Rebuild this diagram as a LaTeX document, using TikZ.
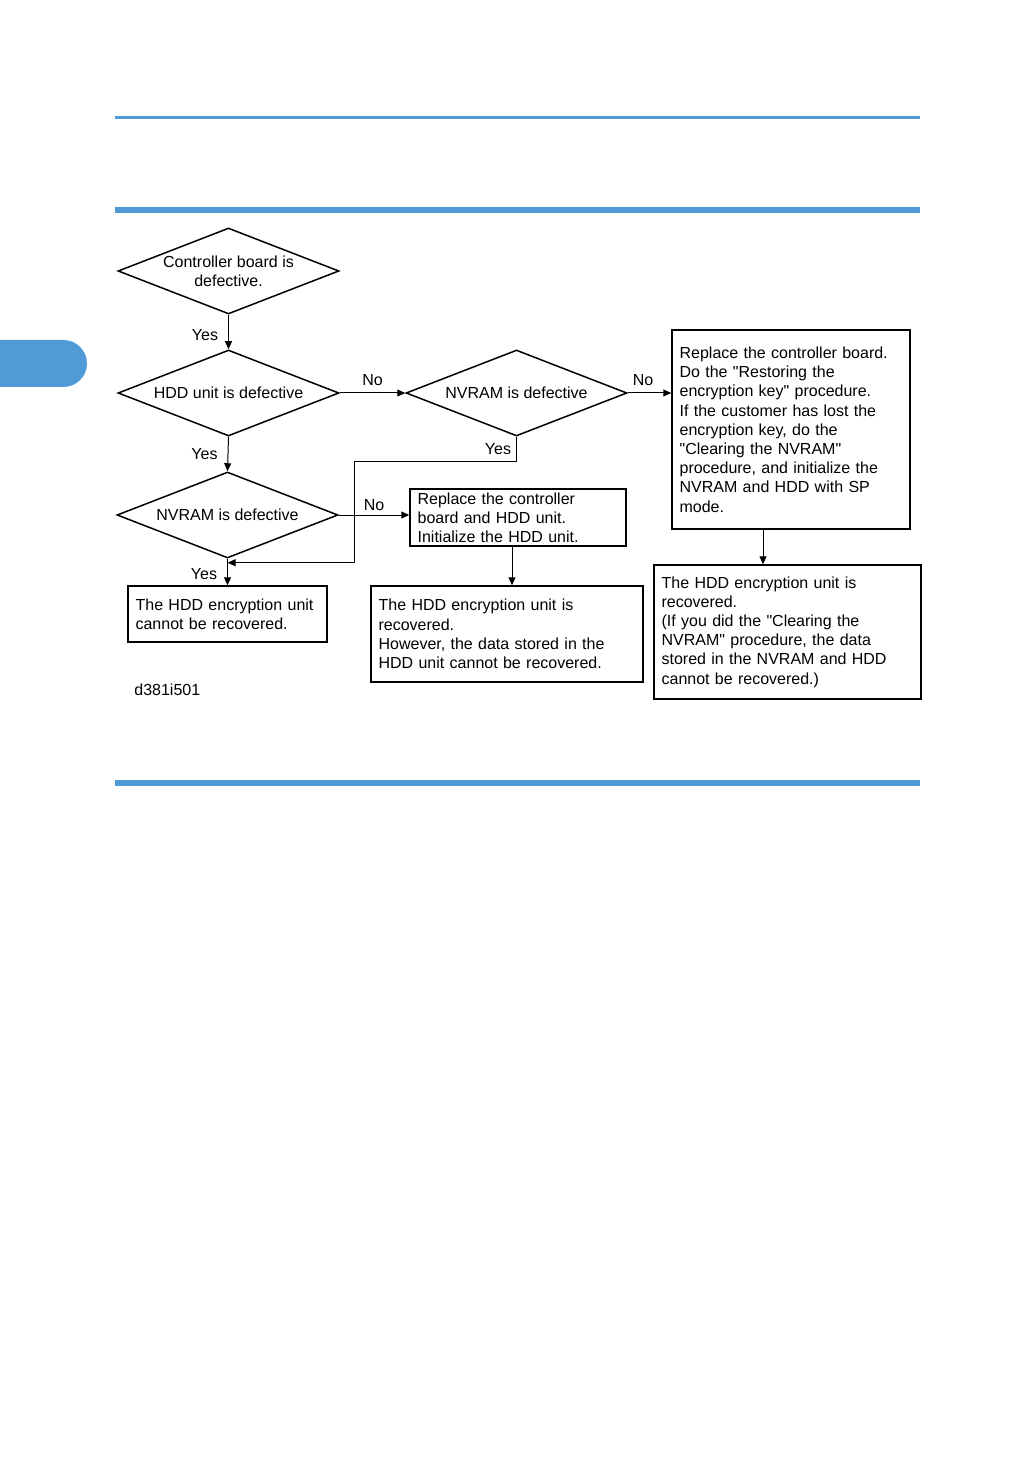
\documentclass[tikz,border=0pt]{standalone}
\usepackage{fontspec}
\setmainfont{Liberation Sans}[Ligatures=TeXOff]
\usetikzlibrary{arrows.meta, shapes.geometric, positioning}
\definecolor{pageblue}{RGB}{80,155,215}

\begin{document}
\begin{tikzpicture}[x=0.5pt, y=-0.5pt,
font=\fontsize{8}{9.6}\selectfont,
decision/.style={draw, shape=diamond, aspect=2.57, line width=0.75pt, inner sep=0pt,
  minimum width=110.5pt, minimum height=43pt, align=center},
action/.style={draw, rectangle, line width=0.75pt, inner xsep=3.8pt,
  inner ysep=0pt, align=left},
flow/.style={line width=0.5pt, -{Triangle[length=4pt,width=3.5pt]}},
answer/.style={inner sep=1.5pt}]
\useasboundingbox (0,0) rectangle (1036,1470);
\draw [pageblue, line width=1.5pt] (115,118) -- (920,118);
\draw [pageblue, line width=3pt] (115,210) -- (920,210);
\draw [pageblue, line width=3pt] (115,783) -- (920,783);
\begin{scope}
\clip (0,0) rectangle (1036,1470);
\fill [pageblue, rounded corners=11.75pt] (-40,340) rectangle (87,387);
\end{scope}
\node [decision] (ctrlbad) at (228.5,271) {Controller board is\\defective.};
\node [decision] (hddbad) at (228.5,393) {HDD unit is defective};
\node [decision] (nvrama) at (516.5,393) {NVRAM is defective};
\node [decision] (nvramb) at (227.5,515) {NVRAM is defective};
\node [action, minimum width=119pt, minimum height=99.5pt, text width=111.4pt]
  (replctrl) at (791,429.5) {Replace the controller board.\\
  Do the "Restoring the\\
  encryption key" procedure.\\
  If the customer has lost the\\
  encryption key, do the\\
  "Clearing the NVRAM"\\
  procedure, and initialize the\\
  NVRAM and HDD with SP\\
  mode.};
\node [action, minimum width=108pt, minimum height=28.5pt, text width=100.4pt]
  (replboth) at (518,517.5) {Replace the controller\\
  board and HDD unit.\\
  Initialize the HDD unit.};
\node [action, minimum width=99.5pt, minimum height=28pt, text width=91.9pt]
  (lostunit) at (227.5,614) {The HDD encryption unit\\
  cannot be recovered.};
\node [action, minimum width=136pt, minimum height=48pt, text width=128.4pt]
  (keptunit) at (507,634) {The HDD encryption unit is\\
  recovered.\\
  However, the data stored in the\\
  HDD unit cannot be recovered.};
\node [action, minimum width=133.5pt, minimum height=67pt, text width=125.9pt]
  (recovered) at (787.5,632) {The HDD encryption unit is\\
  recovered.\\
  (If you did the "Clearing the\\
  NVRAM" procedure, the data\\
  stored in the NVRAM and HDD\\
  cannot be recovered.)};
\node [anchor=west, inner sep=0pt] (figid) at (134,690) {d381i501};
\coordinate (bend) at (354,461);
\coordinate (merge) at ([yshift=-2pt]nvramb.south);
\draw [flow] (ctrlbad.south) -- node [answer, left=3.5pt, pos=0.58] {Yes} (hddbad.north);
\draw [flow] (hddbad.south) -- node [answer, left=3.5pt, pos=0.5] {Yes} (nvramb.north);
\draw [flow] (nvramb.south) -- node [answer, left=3.5pt, pos=0.57] {Yes} (nvramb.south |- lostunit.north);
\draw [flow] (hddbad.east) -- node [answer, above=2pt] {No} (nvrama.west);
\draw [flow] (nvrama.east) -- node [answer, above=2pt, pos=0.35] {No} (replctrl.west |- nvrama.east);
\draw [flow] (nvramb.east) -- node [answer, above=0.5pt] {No} (replboth.west |- nvramb.east);
\draw [flow] (nvrama.south) |- node [answer, left=1pt, pos=0.25] {Yes} (bend) |- (merge);
\draw [flow] ([xshift=-3pt]replboth.south) -- ([xshift=-3pt]replboth.south |- keptunit.north);
\draw [flow] ([xshift=-14pt]replctrl.south) -- ([xshift=-14pt]replctrl.south |- recovered.north);
\end{tikzpicture}
\end{document}
